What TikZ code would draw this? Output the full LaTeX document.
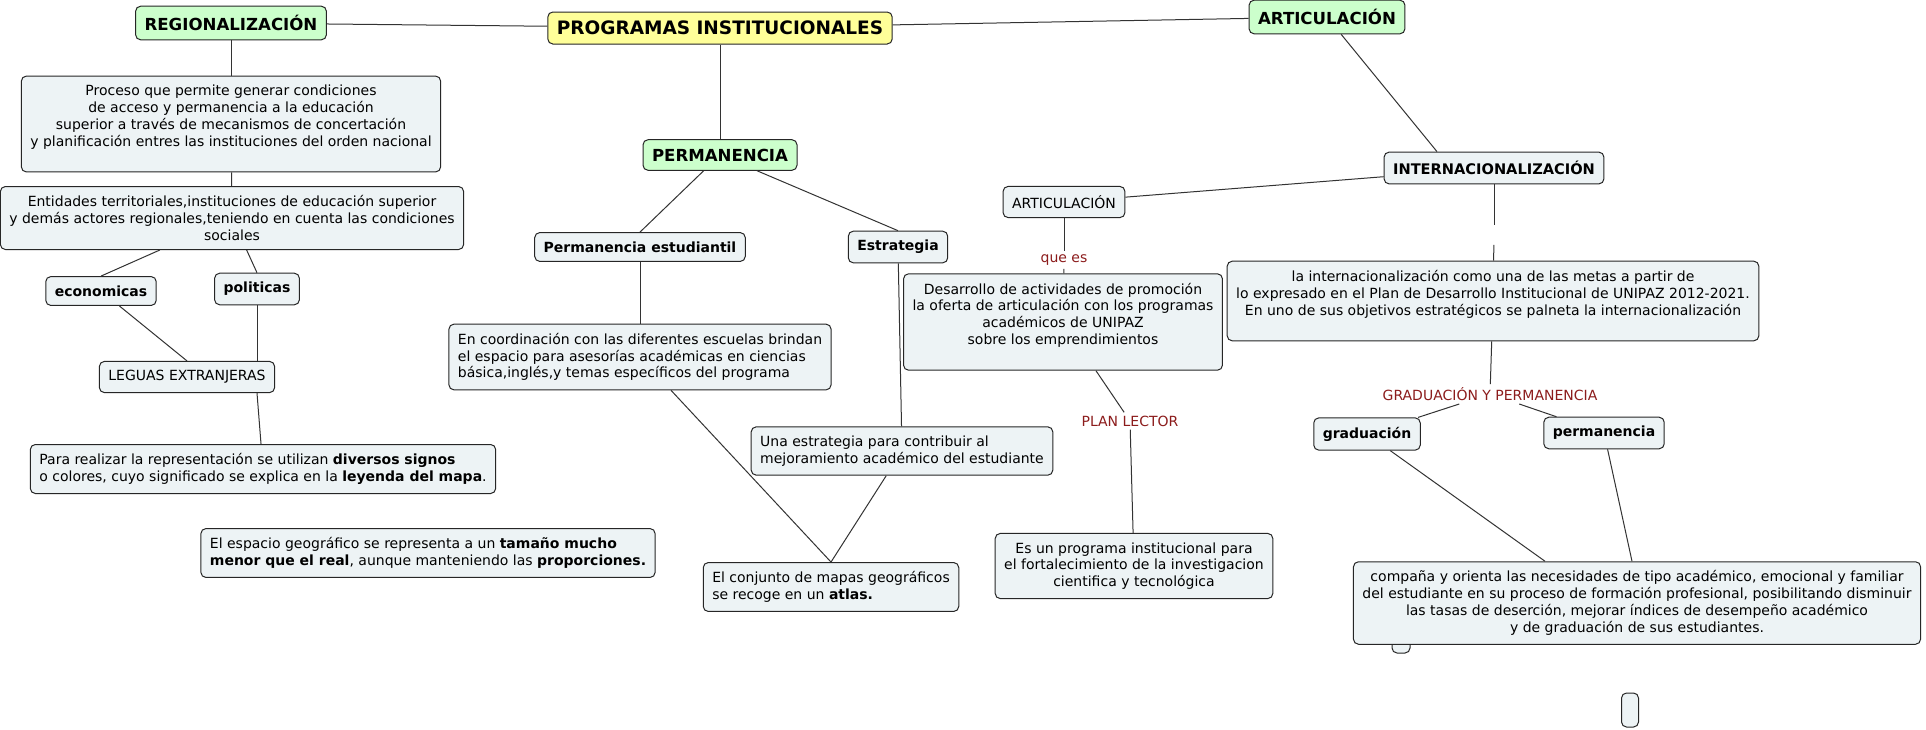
\documentclass[tikz,border=0pt]{standalone}
\usepackage{fontspec}
\setmainfont{DejaVu Sans}
\usetikzlibrary{positioning,calc}
\definecolor{concept}{HTML}{EDF3F5}
\definecolor{topic}{HTML}{CCFFCC}
\definecolor{root}{HTML}{FFFF99}
\definecolor{phrase}{HTML}{8C1C1C}

\begin{document}
\begin{tikzpicture}[x=0.5pt, y=-0.5pt,
    cpt/.style={rectangle, rounded corners=2.5pt, draw=black!85, line
    width=0.5pt, fill=concept, inner xsep=4.5pt, inner ysep=4.5pt,
    font=\fontsize{7}{8.4}\selectfont},
    bcpt/.style={cpt, font=\fontsize{7}{8.4}\selectfont\bfseries},
    head/.style={cpt, fill=topic, font=\fontsize{8.3}{10}\selectfont\bfseries},
    rootc/.style={cpt, fill=root, font=\fontsize{9.25}{11}\selectfont\bfseries},
    lbl/.style={text=phrase, font=\fontsize{7}{8.4}\selectfont, inner sep=1.5pt},
    link/.style={draw=black!80, line width=0.5pt},
  ]
  \fill[white] (0,0) rectangle (1926,729);
  \useasboundingbox (0,0) rectangle (1926,729);

  % top level
  \node[rootc] (prog) at (720,28) {PROGRAMAS INSTITUCIONALES};
  \node[head] (reg) at (231,23) {REGIONALIZACIÓN};
  \node[head] (artTop) at (1327,17) {ARTICULACIÓN};
  \node[head] (perm) at (720,155) {PERMANENCIA};
  \draw[link] (reg) -- (prog);
  \draw[link] (prog) -- (artTop);
  \draw[link] (prog) -- (perm);

  % regionalizacion
  \node[cpt, align=center] (proc) at (231,124) {Proceso que permite generar condiciones\\
    de acceso y permanencia a la educación\\
    superior a través de mecanismos de concertación\\
    y planificación entres las instituciones del orden nacional\\ ~};
  \node[cpt, align=center] (ent) at (232,218) {Entidades territoriales,instituciones de educación superior\\
    y demás actores regionales,teniendo en cuenta las condiciones\\ sociales};
  \node[bcpt] (econ) at (101,291) {economicas};
  \node[bcpt] (pol) at (257,289) {politicas};
  \node[cpt] (leguas) at (187,377) {LEGUAS EXTRANJERAS};
  \node[cpt, align=left] (para) at (263,469) {Para realizar la representación se utilizan \textbf{diversos signos}\\
    o colores, cuyo significado se explica en la \textbf{leyenda del mapa}.};
  \node[cpt, align=left] (esp) at (428,553) {El espacio geográfico se representa a un \textbf{tamaño mucho}\\
    \textbf{menor que el real}, aunque manteniendo las \textbf{proporciones.}};
  \draw[link] (reg) -- (proc);
  \draw[link] (proc) -- (ent);
  \draw[link] (ent) -- (econ.north);
  \draw[link] (ent) -- (pol.north);
  \draw[link] (econ) -- (leguas.north);
  \draw[link] (pol) -- (leguas.north -| pol);
  \draw[link] (leguas.south -| pol) -- (para);

  % permanencia
  \node[bcpt] (permEst) at (640,247) {Permanencia estudiantil};
  \node[bcpt] (estr) at (898,247) {Estrategia};
  \node[cpt, align=left] (coord) at (640,357) {En coordinación con las diferentes escuelas brindan\\
    el espacio para asesorías académicas en ciencias\\
    básica,inglés,y temas específicos del programa};
  \node[cpt, align=left] (una) at (902,451) {Una estrategia para contribuir al\\
    mejoramiento académico del estudiante};
  \node[cpt, align=left] (conj) at (831,587) {El conjunto de mapas geográficos\\
    se recoge en un \textbf{atlas.}};
  \draw[link] (perm) -- (permEst.north);
  \draw[link] (perm) -- (estr.north);
  \draw[link] (permEst) -- (coord);
  \draw[link] (estr) -- (una);
  \draw[link] (coord) -- (conj.north);
  \draw[link] (una) -- (conj.north);

  % articulacion
  \node[bcpt] (intl) at (1494,168) {\fontsize{7.3}{8.8}\selectfont INTERNACIONALIZACIÓN};
  \node[cpt] (art) at (1064,202) {ARTICULACIÓN};
  \node[lbl] (queEs) at (1064,260) {que es};
  \node[cpt, align=center] (desa) at (1063,322) {Desarrollo de actividades de promoción\\
    la oferta de articulación con los programas\\
    académicos de UNIPAZ\\
    sobre los emprendimientos\\ ~};
  \node[lbl] (plan) at (1130,421) {PLAN LECTOR};
  \node[cpt, align=center] (esUn) at (1134,566) {Es un programa institucional para\\
    el fortalecimiento de la investigacion\\
    cientifica y tecnológica};
  \draw[link] (artTop) -- ($(intl.north)+(-57,0)$);
  \draw[link] (art) -- (intl);
  \draw[link] (art) -- (queEs);
  \draw[link] (queEs) -- (desa);
  \draw[link] (desa) -- (plan);
  \draw[link] (plan) -- (esUn);

  % internacionalizacion
  \node[inner sep=0pt, minimum height=9.5pt, minimum width=2pt] (gapI) at (1494,235) {};
  \node[cpt, align=center] (inter) at (1493,301) {la internacionalización como una de las metas a partir de\\
    lo expresado en el Plan de Desarrollo Institucional de UNIPAZ 2012-2021.\\
    En uno de sus objetivos estratégicos se palneta la internacionalización\\ ~};
  \node[lbl] (gradPerm) at (1490,394) {GRADUACIÓN Y PERMANENCIA};
  \node[bcpt] (grad) at (1367,434) {graduación};
  \node[bcpt] (permB) at (1604,433) {permanencia};
  \node[cpt, minimum width=9pt, minimum height=12pt, inner sep=0pt] (nubA) at (1401,641) {};
  \node[cpt, align=center] (comp) at (1637,603) {compaña y orienta las necesidades de tipo académico, emocional y familiar\\
    del estudiante en su proceso de formación profesional, posibilitando disminuir\\
    las tasas de deserción, mejorar índices de desempeño académico\\
    y de graduación de sus estudiantes.};
  \node[cpt, minimum width=8.5pt, minimum height=17pt, inner sep=0pt] (nubB) at (1630,710) {};
  \draw[link] (intl) -- (gapI);
  \draw[link] (gapI) -- (inter);
  \draw[link] (inter) -- (gradPerm);
  \draw[link] (gradPerm) -- (grad);
  \draw[link] (gradPerm) -- (permB);
  \draw[link] (grad) -- ($(comp.north)+(-92,0)$);
  \draw[link] (permB) -- ($(comp.north)+(-5,0)$);
\end{tikzpicture}
\end{document}
